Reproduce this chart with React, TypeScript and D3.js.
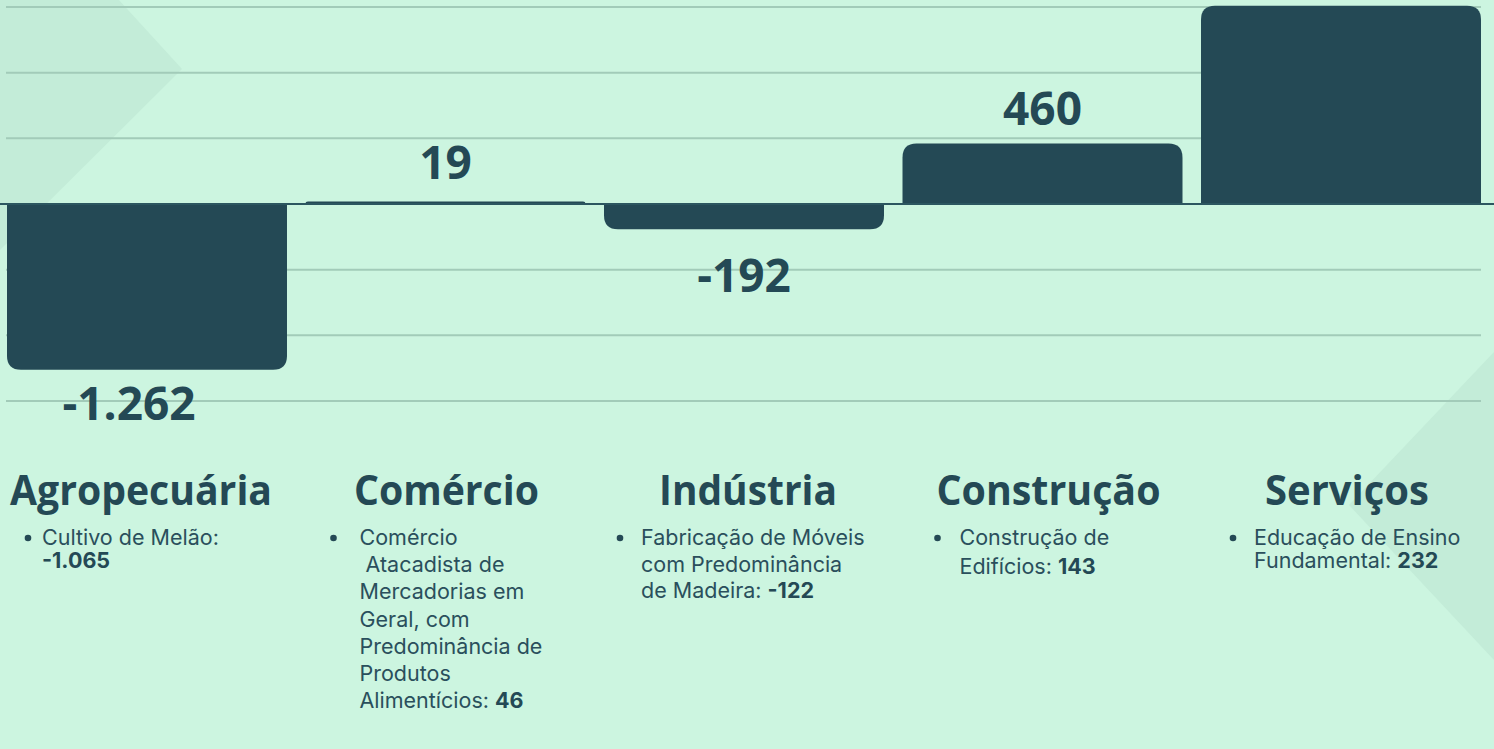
import React from "react";
import * as d3 from "d3";

// ---------- DATA ----------
const categories = ["Agropecuária", "Comércio", "Indústria", "Construção", "Serviços"];
const values = [-1262, 19, -192, 460, 1510];
const gridTicks = [-1500, -1000, -500, 0, 500, 1000, 1500];
// detail bullet lines: [normal text, bold text]
const detailAgro = [["Cultivo de Melão:", ""], ["", "-1.065"]];
const detailComercio = [
  ["Comércio", ""],
  ["\u00a0Atacadista de", ""],
  ["Mercadorias em", ""],
  ["Geral, com", ""],
  ["Predominância de", ""],
  ["Produtos", ""],
  ["Alimentícios: ", "46"],
];
const detailIndustria = [["Fabricação de Móveis", ""], ["com Predominância", ""], ["de Madeira: ", "-122"]];
const detailConstrucao = [["Construção de", ""], ["Edifícios: ", "143"]];
const detailServicos = [["Educação de Ensino", ""], ["Fundamental: ", "232"]];
const details = [detailAgro, detailComercio, detailIndustria, detailConstrucao, detailServicos];

// ---------- LAYOUT ----------
const W = 1494;
const H = 749;
const BG = "#ccf5e0";
const DARK = "#244955";
const TEXT = "#2a4f5c";
const GRID = "#a2cbb9";
const titleWidths = [262, 185, 178, 224, 164];
const titleShift = [-6, 1, 4, 6, 6];
const labelDy = [50, -23, 63, -19, -20];
const bulletOffset = [21, 28, 16, 35, 32];
const textOffset = [35, 54, 37, 57, 53];
const lineHeights = [23, 27.2, 26.5, 29, 23];

const fmt = (v: number) => {
  const s = d3.format(",")(Math.abs(v)).replace(/,/g, ".");
  return (v < 0 ? "-" : "") + s;
};

function barPath(x0: number, w: number, y0: number, y1: number, r: number, up: boolean) {
  const p = d3.path();
  const rr = Math.min(r, Math.abs(y1 - y0));
  const s = up ? 1 : -1;
  p.moveTo(x0, y0);
  p.lineTo(x0, y1 + s * rr);
  p.quadraticCurveTo(x0, y1, x0 + rr, y1);
  p.lineTo(x0 + w - rr, y1);
  p.quadraticCurveTo(x0 + w, y1, x0 + w, y1 + s * rr);
  p.lineTo(x0 + w, y0);
  p.closePath();
  return p.toString();
}

export default function App() {
  const x = d3.scaleBand<string>().domain(categories).range([7, 1481]).paddingInner(0.062).paddingOuter(0);
  const y = d3.scaleLinear().domain([-1500, 1500]).range([401, 7]);
  const bw = x.bandwidth();
  const y0 = y(0);

  return (
    <div style={{ position: "absolute", left: 0, top: 0, width: W, height: H, overflow: "hidden" }}>
      <svg width={W} height={H} style={{ display: "block" }}>
        <rect x={0} y={0} width={W} height={H} fill={BG} />
        {/* decorative triangles */}
        <polygon points="0,-130 182,69 0,250" fill="#c3ecd8" />
        <polygon points="1494,352 1349,505 1494,660" fill="#c3ecd8" />
        {/* grid lines */}
        {gridTicks.filter((t) => t !== 0).map((t) => (
          <line key={t} x1={6} x2={1481} y1={y(t)} y2={y(t)} stroke={GRID} strokeWidth={2} />
        ))}
        {/* bars */}
        {categories.map((c, i) => {
          const v = values[i];
          const x0 = x(c)!;
          return <path key={c} d={barPath(x0, bw, y0, y(v), 14, v >= 0)} fill={DARK} />;
        })}
        <line x1={0} x2={W} y1={y0} y2={y0} stroke="#2c5660" strokeWidth={2} />
        {/* value labels (only those that fall inside the picture) */}
        {categories.map((c, i) => {
          const v = values[i];
          const cx = x(c)! + bw / 2;
          const ty = y(v) + labelDy[i];
          if (ty < 40) return null;
          return (
            <text
              key={c}
              x={cx - (i === 0 ? 18 : 0)}
              y={ty}
              textAnchor="middle"
              fontFamily="'Open Sans', sans-serif"
              fontWeight={700}
              fontSize={46}
              fill={DARK}
            >
              {fmt(v)}
            </text>
          );
        })}
        {/* category titles */}
        {categories.map((c, i) => {
          const cx = x(c)! + bw / 2 + titleShift[i];
          return (
            <text
              key={c}
              x={cx}
              y={505}
              textAnchor="middle"
              fontFamily="'Open Sans', sans-serif"
              fontWeight={700}
              fontSize={41}
              fill={DARK}
              textLength={titleWidths[i]}
              lengthAdjust="spacingAndGlyphs"
            >
              {c}
            </text>
          );
        })}
        {/* details */}
        {categories.map((c, i) => {
          const x0 = x(c)!;
          return (
            <g key={c}>
              <circle cx={x0 + bulletOffset[i]} cy={538} r={3.3} fill={DARK} />
              {details[i].map((ln, j) => (
                <text
                  key={j}
                  x={x0 + textOffset[i]}
                  y={545 + j * lineHeights[i]}
                  fontFamily="Inter, sans-serif"
                  fontSize={21.5}
                  fill={TEXT}
                  style={{ whiteSpace: "pre" }}
                >
                  <tspan>{ln[0]}</tspan>
                  {ln[1] ? <tspan fontWeight={700} fill={DARK}>{ln[1]}</tspan> : null}
                </text>
              ))}
            </g>
          );
        })}
      </svg>
    </div>
  );
}
